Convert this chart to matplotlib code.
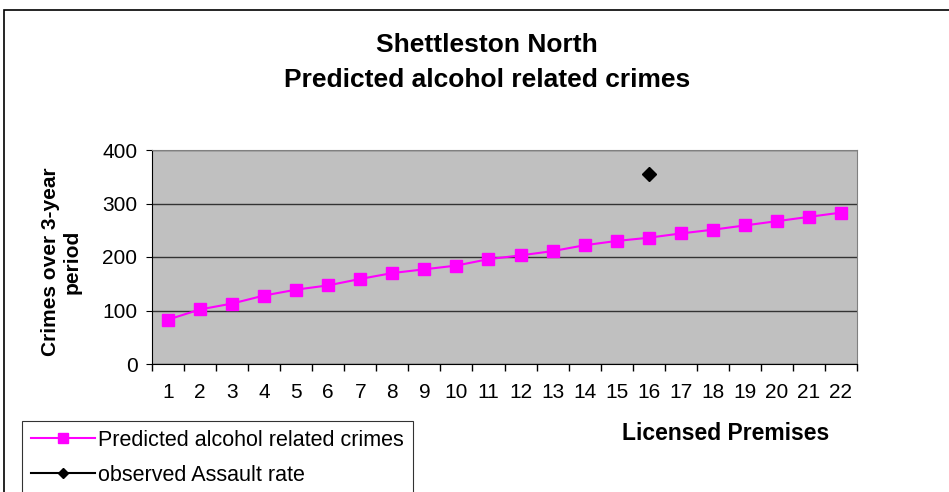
import numpy as np
import matplotlib
matplotlib.use("Agg")
import matplotlib.pyplot as plt
from matplotlib.patches import Rectangle

plt.rcParams['font.family'] = ['Liberation Sans', 'DejaVu Sans']

# data
premises = list(range(1, 23))
predicted = [83, 102, 113, 128, 139, 147, 159, 170, 177, 184, 196,
             203, 211, 222, 230, 236, 244, 251, 259, 267, 275, 283]
observed_x = [16]
observed_y = [356]

W, H = 949, 492
fig = plt.figure(figsize=(W / 100, H / 100), dpi=100)

# outer chart border (cut off at right and bottom like the original)
fig.patches.append(Rectangle((4 / W, -0.1), 1.1, 1 - 10 / H + 0.1,
                             transform=fig.transFigure, fill=False,
                             edgecolor='black', lw=1.2))

ax = fig.add_axes([152 / W, 1 - 364 / H, (857 - 152) / W, (364 - 150) / H])
ax.set_facecolor('#C0C0C0')

ax.plot(premises, predicted, color='#FF00FF', lw=1.5, marker='s',
        markersize=9, label='Predicted alcohol related crimes', zorder=3)
ax.plot(observed_x, observed_y, color='black', lw=1.5, marker='D',
        markersize=7, label='observed Assault rate', linestyle='None', zorder=3)

ax.set_xlim(0.5, 22.5)
ax.set_ylim(0, 400)
ax.set_yticks([0, 100, 200, 300, 400])
ax.set_xticks(premises)
ax.set_xticks(np.arange(0.5, 23, 1), minor=True)
ax.tick_params(axis='x', which='major', length=0, pad=14, labelsize=15)
ax.tick_params(axis='x', which='minor', length=5, direction='out', width=1)
ax.tick_params(axis='y', length=4.5, direction='out', labelsize=15, pad=6)
ax.yaxis.grid(True, color='#333333', lw=1)
ax.set_axisbelow(True)
for s in ['top', 'right']:
    ax.spines[s].set_color('#808080')
for s in ['left', 'bottom']:
    ax.spines[s].set_color('black')

fig.text(487 / W, 1 - 45 / H, 'Shettleston North', ha='center', va='center',
         fontsize=19, fontweight='bold')
fig.text(487 / W, 1 - 80 / H, 'Predicted alcohol related crimes', ha='center',
         va='center', fontsize=19, fontweight='bold')
fig.text(61 / W, 1 - 262 / H, 'Crimes over 3-year\nperiod', ha='center',
         va='center', rotation=90, fontsize=15, fontweight='bold',
         linespacing=1.15)
fig.text(726 / W, 1 - 433 / H, 'Licensed Premises', ha='center', va='center',
         fontsize=16.5, fontweight='bold')

leg = fig.legend(loc='upper left', bbox_to_anchor=(22 / W, 1 - 421 / H),
                 frameon=True, fancybox=False, edgecolor='black',
                 fontsize=15.5, borderaxespad=0, handlelength=3.0,
                 borderpad=0.4, labelspacing=0.65, handletextpad=0.15,
                 markerscale=0.75)
leg.get_frame().set_linewidth(0.8)
# give the legend diamond a line like the original
leg.legend_handles[1].set_linestyle('-')

fig.savefig('out.png', dpi=100)
